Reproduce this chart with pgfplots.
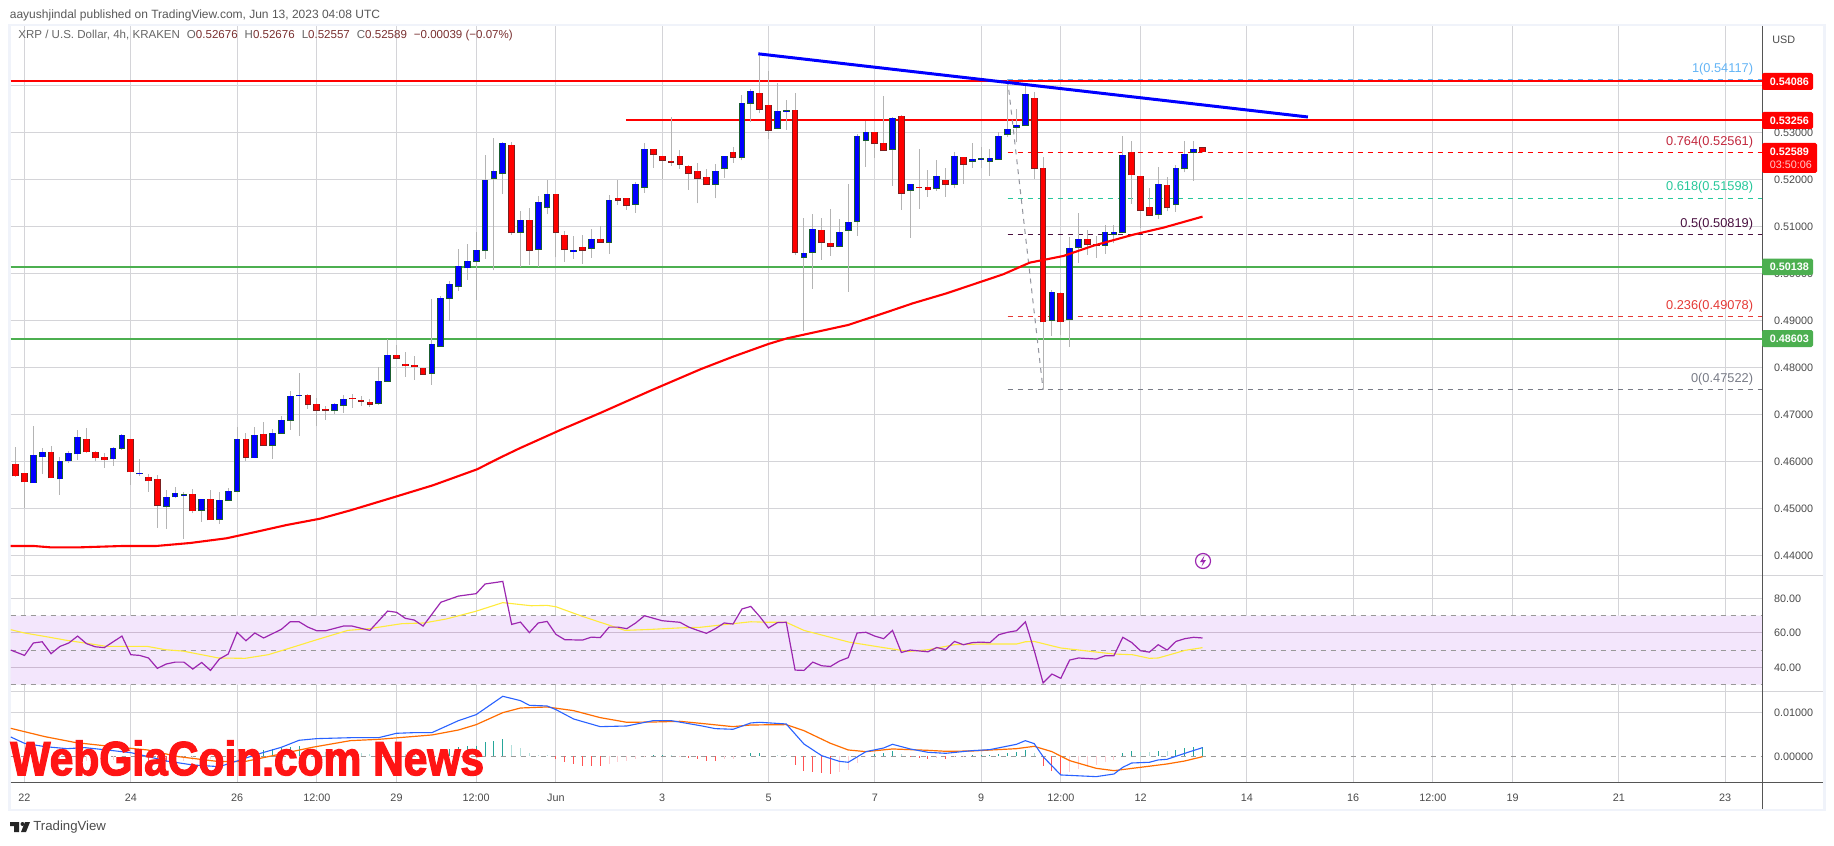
\documentclass[border=0pt]{standalone}
\usepackage{fontspec}
\setmainfont{Liberation Sans}
\newfontfamily\wmfont[FakeBold=2.5,FakeStretch=0.885]{Liberation Sans Bold}
\usepackage{pgfplots}
\usepackage{pgfplotstable}
\pgfplotsset{compat=1.18}

\definecolor{upfill}{HTML}{0000FF}
\definecolor{upedge}{HTML}{1B5E30}
\definecolor{dnfill}{HTML}{FF0000}
\definecolor{dnedge}{HTML}{7B1F1F}
\definecolor{wick}{HTML}{B4B4B4}
\definecolor{gridc}{HTML}{D4D4D8}
\definecolor{framec}{HTML}{F0F3FA}
\definecolor{tickc}{HTML}{4A4A4A}
\definecolor{axisc}{HTML}{555555}
\definecolor{levelred}{HTML}{FF0000}
\definecolor{levelgreen}{HTML}{4CAF50}
\definecolor{fib1}{HTML}{64B5F6}
\definecolor{fib764}{HTML}{C2273D}
\definecolor{fib618}{HTML}{26C89A}
\definecolor{fib5}{HTML}{4A1040}
\definecolor{fib236}{HTML}{E53935}
\definecolor{fib0}{HTML}{787B86}
\definecolor{rsiline}{HTML}{9C27B0}
\definecolor{rsima}{HTML}{FFEB3B}
\definecolor{rsiband}{HTML}{F3E6FC}
\definecolor{macdline}{HTML}{2962FF}
\definecolor{macdsig}{HTML}{FF6D00}
\definecolor{histup}{HTML}{26A69A}
\definecolor{histupl}{HTML}{B2DFDB}
\definecolor{histdn}{HTML}{FF5252}
\definecolor{histdnl}{HTML}{FFCDD2}
\definecolor{valc}{HTML}{7A3030}

% x is the number of 4h candles since May 22 00:00
\pgfplotstableread{
n open high low close
1 .45546 .46752 .45546 .46128
2 .46099 .46284 .45738 .46191
4 .45631 .46092 .45291 .46000
5 .46014 .46220 .45972 .46170
6 .46163 .46667 .46035 .46511
10 .46057 .46305 .45908 .46277
11 .46277 .46582 .46248 .46553
13 .45738 .46050 .45695 .45745
16 .45043 .45390 .44567 .45234
17 .45248 .45454 .45213 .45319
18 .45277 .45348 .44355 .45291
20 .44957 .45191 .44716 .45191
22 .44766 .45348 .44674 .45170
23 .45170 .45433 .45170 .45362
24 .45362 .46730 .45348 .46468
26 .46078 .46730 .46064 .46553
28 .46340 .46688 .46057 .46596
29 .46596 .46965 .46596 .46872
30 .46872 .47496 .46674 .47383
31 .47397 .47879 .46546 .47404
35 .47085 .47241 .47014 .47213
36 .47191 .47411 .47035 .47319
40 .47234 .48000 .47206 .47702
41 .47702 .48600 .47702 .48255
46 .47872 .49454 .47631 .48489
47 .48447 .49518 .48447 .49468
48 .49468 .49830 .48993 .49766
49 .49723 .50518 .49631 .50149
50 .50121 .50624 .49865 .50255
51 .50255 .50887 .49440 .50489
52 .50489 .52518 .50312 .51979
53 .52021 .52879 .50064 .52170
54 .52128 .52794 .51695 .52766
56 .50872 .51319 .50142 .51128
58 .50511 .51638 .50142 .51511
59 .51404 .51986 .51255 .51681
62 .50461 .50801 .50312 .50489
64 .50532 .50943 .50333 .50723
66 .50660 .51667 .50418 .51553
69 .51468 .51943 .51291 .51894
70 .51830 .52766 .51716 .52638
78 .51894 .52326 .51596 .52170
79 .52234 .52489 .52035 .52489
81 .52468 .53787 .52404 .53617
82 .53617 .53915 .53213 .53872
85 .53085 .54050 .53064 .53447
86 .53454 .53681 .53050 .53461
88 .50340 .51177 .48780 .50426
89 .50447 .51262 .49674 .50936
92 .50574 .51149 .50574 .50872
93 .50915 .51901 .49610 .51085
94 .51106 .52957 .50801 .52915
95 .52830 .53241 .52270 .53000
98 .52638 .53319 .51865 .53298
100 .51766 .51894 .50759 .51894
103 .51808 .52404 .51759 .52064
105 .51894 .52574 .51808 .52489
107 .52383 .52773 .52241 .52425
108 .52433 .52695 .52241 .52440
109 .52383 .52645 .52078 .52447
110 .52425 .53000 .52425 .52915
111 .52957 .54128 .52894 .53064
112 .53106 .53489 .52787 .53149
113 .53149 .54007 .53149 .53808
116 .49000 .49638 .48674 .49596
118 .49021 .50780 .48440 .50532
119 .50553 .51284 .50227 .50723
122 .50596 .51021 .50418 .50872
123 .50837 .51028 .50638 .50872
124 .50872 .52922 .50872 .52511
128 .51255 .52262 .51163 .51894
130 .51468 .52298 .51312 .52234
131 .52234 .52808 .52149 .52532
132 .52574 .52808 .51972 .52638
}\upcandles

\pgfplotstableread{
n open high low close
-1 .45936 .46305 .45667 .45695
0 .45745 .45745 .45014 .45567
3 .46191 .46326 .45652 .45652
7 .46468 .46709 .46184 .46206
8 .46191 .46220 .46000 .46078
9 .46085 .46177 .45865 .46035
12 .46468 .46468 .45504 .45780
14 .45660 .45723 .45355 .45589
15 .45617 .45702 .44589 .45064
19 .45298 .45411 .44894 .44950
21 .45191 .45390 .44759 .44759
25 .46468 .46603 .46007 .46085
27 .46574 .46837 .46326 .46340
32 .47404 .47426 .47121 .47213
33 .47213 .47340 .46759 .47085
34 .47106 .47170 .46887 .47085
37 .47340 .47433 .47142 .47333
38 .47298 .47383 .47184 .47277
39 .47255 .47319 .47163 .47213
42 .48255 .48475 .48191 .48191
43 .48064 .48326 .47801 .48035
44 .48043 .48241 .47738 .48014
45 .47979 .47979 .47851 .47851
55 .52723 .52794 .50823 .50872
57 .51128 .51383 .50170 .50489
60 .51681 .51681 .50340 .50872
61 .50808 .50901 .50248 .50511
63 .50553 .50816 .50206 .50489
65 .50723 .51007 .50660 .50660
67 .51596 .51986 .51461 .51553
68 .51596 .51596 .51355 .51447
71 .52638 .52638 .52241 .52532
72 .52489 .52489 .52000 .52404
73 .52383 .53319 .52291 .52362
74 .52489 .52624 .52227 .52319
75 .52277 .52298 .51780 .52128
76 .52170 .52347 .51489 .52021
77 .52043 .52213 .51894 .51894
80 .52574 .52681 .52355 .52468
83 .53830 .54667 .53404 .53489
84 .53574 .54305 .52865 .53043
87 .53468 .53837 .50397 .50447
90 .50915 .51177 .50291 .50660
91 .50638 .51362 .50376 .50574
96 .53000 .53000 .52461 .52766
97 .52766 .53773 .52617 .52617
99 .53340 .53362 .51355 .51702
101 .51830 .52645 .51376 .51823
102 .51830 .52191 .51631 .51780
104 .51979 .52234 .51631 .51894
106 .52468 .52468 .51908 .52319
114 .53723 .53858 .52014 .52234
115 .52234 .52468 .47532 .48972
117 .49574 .49596 .48681 .48972
120 .50723 .50915 .50397 .50617
121 .50617 .50801 .50333 .50596
125 .52574 .52816 .51482 .52099
126 .52064 .52064 .50957 .51340
127 .51404 .51808 .51234 .51234
129 .51872 .52043 .51319 .51404
133 .52676 .52676 .52557 .52589
}\downcandles

\pgfplotsset{
  tvpanel/.style={
    scale only axis,
    width=875.65pt,
    xmin=-1.558, xmax=196.17,
    axis line style={draw=none},
    tick style={draw=none},
    major tick length=0pt,
    grid=major,
    grid style={gridc, line width=0.5pt},
    xtick={0,12,24,33,42,51,60,72,84,96,108,117,126,138,150,159,168,180,192},
    xticklabels={},
    ymajorgrids=true,
    yticklabel pos=right,
    tick label style={font=\fontsize{5.4pt}{6pt}\selectfont, text=tickc},
    yticklabel style={anchor=west, xshift=2.5pt},
    /pgf/number format/assume math mode=true,
    /pgf/number format/fixed,
    /pgf/number format/fixed zerofill,
  },
  wicks/.style={draw=none, no markers, forget plot,
    error bars/y dir=plus, error bars/y explicit, error bars/error mark=none,
    error bars/error bar style={draw=wick, solid, line width=0.5pt}},
  bodies/.style={draw=none, no markers, forget plot,
    error bars/y dir=plus, error bars/y explicit, error bars/error mark=none,
    error bars/error bar style={#1}},
  level/.style={draw=#1, line width=1pt, no markers},
  fibline/.style={draw=#1, line width=0.5pt, no markers, dash pattern=on 2.5pt off 2.5pt},
}

\newcommand{\fiblabel}[3]{\node[anchor=south east, inner sep=0pt, yshift=2.2pt, text=#1,
  font=\fontsize{6.4pt}{7pt}\selectfont] at (axis cs:195.2,#2) {#3};}

\begin{document}
\begin{tikzpicture}
\path[use as bounding box] (0,0) rectangle (917pt,-422.5pt);
\fill[white] (0,0) rectangle (917pt,-422.5pt);
\draw[framec, line width=1.2pt] (4.8pt,-12.4pt) rectangle (912.2pt,-405pt);

% price pane
\begin{axis}[tvpanel, at={(5.35pt,-287.5pt)}, anchor=south west, height=274.5pt,
  ymin=.43581, ymax=.55262,
  ytick={.44,.45,.46,.47,.48,.49,.50,.51,.52,.53,.54},
  /pgf/number format/precision=5]
\addplot[level=levelgreen] coordinates {(-1.558,.50138) (196.17,.50138)};
\addplot[level=levelgreen] coordinates {(-1.558,.48603) (196.17,.48603)};
\addplot[level=levelred] coordinates {(-1.558,.54086) (196.17,.54086)};
\addplot[level=levelred] coordinates {(67.9,.53256) (196.17,.53256)};

\addplot[fibline=fib1] coordinates {(111,.54117) (196.17,.54117)};
\addplot[fibline=levelred] coordinates {(111,.52561) (196.17,.52561)};
\addplot[fibline=fib618] coordinates {(111,.51598) (196.17,.51598)};
\addplot[fibline=fib5] coordinates {(111,.50819) (196.17,.50819)};
\addplot[fibline=fib236] coordinates {(111,.49078) (196.17,.49078)};
\addplot[fibline=fib0] coordinates {(111,.47522) (196.17,.47522)};
\addplot[fibline=fib0!80] coordinates {(111,.54117) (115,.47522)};

\addplot[wicks] table[x=n, y=low, y error plus expr=\thisrow{high}-\thisrow{low}] {\upcandles};
\addplot[wicks] table[x=n, y=low, y error plus expr=\thisrow{high}-\thisrow{low}] {\downcandles};

\addplot[bodies={draw=upedge, solid, line width=3.4pt}] table[x=n, y expr=\thisrow{open}-.00016,
  y error plus expr=\thisrow{close}-\thisrow{open}+.00032] {\upcandles};
\addplot[bodies={draw=upfill, solid, line width=2.4pt}] table[x=n, y=open,
  y error plus expr=\thisrow{close}-\thisrow{open}] {\upcandles};
\addplot[bodies={draw=dnedge, solid, line width=3.4pt}] table[x=n, y expr=\thisrow{close}-.00016,
  y error plus expr=\thisrow{open}-\thisrow{close}+.00032] {\downcandles};
\addplot[bodies={draw=dnfill, solid, line width=2.4pt}] table[x=n, y=close,
  y error plus expr=\thisrow{open}-\thisrow{close}] {\downcandles};

% 100 EMA
\addplot[draw=dnfill, line width=1.05pt, no markers] coordinates {
(-1.56,.44199) (1,.44199) (2.9,.44170) (6.3,.44170) (11.2,.44199) (14.9,.44199)
(18.7,.44262) (22.8,.44362) (26.6,.44518) (29.6,.44645) (33.4,.44780) (36.8,.44957)
(41.3,.45213) (46.1,.45489) (51.1,.45830) (53.7,.46078) (55.9,.46277) (60.5,.46666)
(65,.47028) (70.6,.47496) (76.3,.47957) (80,.48227) (84,.48497) (86.1,.48617)
(93,.48901) (97.3,.49170) (100.3,.49362) (104.1,.49574) (110.5,.49979) (113.5,.50227)
(117.3,.50369) (120.7,.50589) (125.2,.50823) (128.6,.50972) (133,.51206)};

% falling trend line
\addplot[draw=upfill, line width=1.5pt, no markers] coordinates {(82.85,.5467) (144.9,.53326)};

\fiblabel{fib1}{.54117}{1(0.54117)}
\fiblabel{fib764}{.52561}{0.764(0.52561)}
\fiblabel{fib618}{.51598}{0.618(0.51598)}
\fiblabel{fib5}{.50819}{0.5(0.50819)}
\fiblabel{fib236}{.49078}{0.236(0.49078)}
\fiblabel{fib0}{.47522}{0(0.47522)}
\end{axis}

% RSI pane
\begin{axis}[tvpanel, at={(5.35pt,-345.5pt)}, anchor=south west, height=58pt,
  ymin=26.26, ymax=93.51,
  ytick={40,60,80},
  /pgf/number format/precision=2]
\addplot[fill=rsiband, draw=none, forget plot] coordinates {(-1.558,30) (196.17,30) (196.17,70) (-1.558,70)} \closedcycle;
\addplot[draw=gridc!85!rsiline, line width=0.5pt, no markers] coordinates {(-1.558,40) (196.17,40)};
\addplot[draw=gridc!85!rsiline, line width=0.5pt, no markers] coordinates {(-1.558,60) (196.17,60)};
\addplot[draw=black!40, line width=0.5pt, no markers, dash pattern=on 2.5pt off 2.5pt] coordinates {(-1.558,70) (196.17,70)};
\addplot[draw=black!40, line width=0.5pt, no markers, dash pattern=on 2.5pt off 2.5pt] coordinates {(-1.558,50) (196.17,50)};
\addplot[draw=black!40, line width=0.5pt, no markers, dash pattern=on 2.5pt off 2.5pt] coordinates {(-1.558,30) (196.17,30)};
\addplot[draw=rsima, line width=0.55pt, no markers] coordinates {
(-1.55,61.8) (0,59.9) (2.3,57.9) (4.8,55.6) (6.8,54.1) (9.3,52.1) (13.9,52.1) (15.9,50.2)
(17.9,49.4) (21.9,45.4) (24.9,45.2) (27.5,47.3) (30,51.2) (33,56.0) (36.5,61.4) (38.9,62.4)
(42.6,65.3) (45.1,65.7) (47.6,68.0) (50.9,72.4) (54,77.5) (57.2,75.7) (59,75.9) (60,75.1)
(63,69.5) (67.8,61.4) (70.8,62.0) (73.8,62.8) (76.3,63.2) (78.9,64.7) (82,66.4) (84,66.1)
(86,66.1) (88,61.4) (93.1,54.6) (97,51.4) (99.8,49.2) (102,50.2) (105,53.1) (108,53.5)
(112,53.5) (113,54.8) (114,55.0) (117,51.2) (123,47.7) (125.1,47.3) (127,45.2) (128,45.4)
(130,48.3) (131,49.8) (133,51.4)};
\addplot[draw=rsiline, line width=0.6pt, no markers] coordinates {
(-1.55,50.0) (0,46.9) (1,54.1) (2,54.8) (3,47.9) (4,52.1) (5,54.1) (6,58.1) (7,53.7) (8,51.9)
(9,51.4) (11,58.1) (12,47.3) (13,46.9) (14,45.4) (15,39.4) (16,41.9) (17,43.0) (18,43.0)
(19,39.0) (20,42.8) (21,38.2) (22,44.8) (23,47.7) (24,60.3) (25,55.4) (26,59.9) (27,57.0)
(29,62.0) (30,66.4) (31,66.4) (32,63.3) (33,61.2) (34,61.2) (36,63.9) (37,63.9) (38,62.6)
(39,61.4) (41,72.6) (42,71.9) (43,68.4) (44,67.4) (45,63.9) (47,77.7) (49,81.3) (51,82.7)
(52,88.3) (54,89.8) (55,64.9) (56,66.2) (57,60.1) (58,65.7) (59,66.6) (60,59.1) (61,56.0)
(63,55.8) (64,57.5) (65,57.2) (66,63.3) (67,63.3) (68,62.4) (69,65.7) (70,69.9) (72,67.0)
(74,66.1) (75,63.3) (76,61.4) (77,59.7) (78,62.4) (79,65.7) (80,65.1) (81,73.8) (82,75.3)
(83,69.5) (84,62.8) (85,65.9) (86,66.1) (87,38.4) (88,38.2) (89,43.0) (90,40.9) (91,40.5)
(92,43.6) (93,45.6) (94,59.9) (95,60.3) (96,58.1) (97,56.6) (98,61.4) (99,48.6) (100,50.0)
(102,49.0) (103,51.5) (104,50.2) (105,55.0) (106,53.1) (107,54.3) (108,54.6) (109,54.3)
(110,58.9) (111,60.3) (112,61.2) (113,66.4) (114,49.8) (115,31.0) (116,36.1) (117,33.6)
(118,44.2) (119,45.4) (121,44.8) (122,46.7) (123,46.7) (124,57.4) (125,54.4) (126,49.6)
(127,48.8) (128,53.1) (129,50.0) (130,55.0) (131,56.6) (132,57.4) (133,57.0)};
\end{axis}

% MACD pane
\begin{axis}[tvpanel, at={(5.35pt,-391pt)}, anchor=south west, height=45.5pt,
  ymin=-.00584, ymax=.01484,
  ytick={.01}, extra y ticks={0}, extra tick style={grid=none},
  /pgf/number format/precision=5,
  scaled y ticks=false,
  xticklabels={22,24,26,12:00,29,12:00,Jun,3,5,7,9,12:00,12,14,16,12:00,19,21,23},
  xticklabel style={yshift=-2.5pt}]
\addplot[draw=black!40, line width=0.5pt, no markers, dash pattern=on 2.5pt off 2.5pt] coordinates {(-1.558,0) (196.17,0)};
\addplot[ycomb, draw=histup, line width=0.5pt, no markers] coordinates {
(26,.00098) (27,.00136) (28,.00159) (29,.00182) (30,.00212) (31,.00227) (48,.00159) (49,.00205)
(50,.00235) (51,.00227) (52,.00333) (53,.00348) (54,.00394) (71,.00030) (72,.00023) (82,.00076)
(83,.00076) (96,.00045) (97,.00068) (98,.00121) (107,.00023) (108,.00030) (109,.00023) (110,.00053)
(111,.00076) (112,.00098) (113,.00144) (124,.00068) (125,.00114) (128,.00114) (130,.00144)
(131,.00189) (132,.00212) (133,.00212)};
\addplot[ycomb, draw=histupl, line width=0.5pt, no markers] coordinates {
(25,.00030) (32,.00180) (33,.00130) (34,.00090) (35,.00060) (36,.00040) (37,.00030) (38,.00068)
(39,.00045) (40,.00030) (41,.00045) (42,.00060) (43,.00060) (44,.00050) (45,.00040) (46,.00040)
(47,.00090) (55,.00258) (56,.00182) (57,.00068) (58,.00038) (59,.00023) (73,.00023) (85,.00023)
(86,.00023) (99,.00045) (114,.00068) (126,.00091) (127,.00098) (129,.00114)};
\addplot[ycomb, draw=histdn, line width=0.5pt, no markers] coordinates {
(13,-.00091) (14,-.00110) (15,-.00120) (16,-.00130) (17,-.00120) (60,-.00061) (61,-.00129)
(62,-.00182) (63,-.00220) (64,-.00220) (65,-.00220) (75,-.00045) (76,-.00068) (77,-.00098)
(78,-.00098) (87,-.00189) (88,-.00326) (89,-.00348) (90,-.00371) (91,-.00394) (100,-.00015)
(101,-.00030) (102,-.00053) (104,-.00053) (115,-.00220) (116,-.00333) (117,-.00424)};
\addplot[ycomb, draw=histdnl, line width=0.5pt, no markers] coordinates {
(-1,-.00190) (0,-.00180) (1,-.00170) (2,-.00160) (3,-.00150) (4,-.00140) (5,-.00130) (6,-.00120)
(7,-.00110) (8,-.00100) (9,-.00090) (10,-.00080) (11,-.00070) (12,-.00060) (18,-.00100)
(19,-.00090) (20,-.00080) (21,-.00070) (22,-.00060) (23,-.00040) (24,-.00020) (66,-.00182)
(67,-.00136) (68,-.00106) (69,-.00061) (70,-.00008) (74,-.00008) (79,-.00068) (80,-.00068)
(92,-.00348) (93,-.00303) (94,-.00152) (95,-.00023) (103,-.00045) (105,-.00023) (106,-.00023)
(118,-.00356) (119,-.00288) (120,-.00235) (121,-.00189) (122,-.00129) (123,-.00083)};
\addplot[draw=macdsig, line width=0.6pt, no markers] coordinates {
(-1.55,.00636) (2.3,.00447) (5.8,.00311) (9.3,.00235) (13.9,.00144) (17.4,-.00008) (22,-.00121)
(25,-.00114) (27.5,-.00008) (32.5,.00205) (36.8,.00356) (40,.00386) (46,.00485) (49,.00598)
(51,.00720) (54,.00992) (56,.01098) (59,.01121) (62,.01038) (65,.00879) (68,.00773) (71,.00780)
(74,.00795) (76.3,.00750) (80,.00674) (82,.00712) (86,.00720) (88,.00583) (91,.00295) (93,.00144)
(95,.00106) (98,.00167) (102,.00136) (104,.00114) (107,.00121) (112,.00174) (114,.00227)
(116,.00106) (118,-.00098) (121,-.00273) (123,-.00326) (126,-.00250) (129,-.00174) (131,-.00106)
(133,-.00008)};
\addplot[draw=macdline, line width=0.55pt, no markers] coordinates {
(-1.55,.00439) (0,.00295) (2.3,.00220) (4.8,.00174) (6.8,.00197) (9.3,.00144) (12,.00083)
(14,-.00008) (16,-.00106) (19,-.00197) (22,-.00235) (24,-.00106) (26,.00030) (29,.00205)
(31,.00364) (33,.00402) (37,.00424) (40,.00424) (42,.00523) (44,.00538) (46,.00538) (49,.00811)
(51,.00947) (54,.01364) (56,.01265) (57,.01159) (59,.01144) (60,.01061) (62,.00848) (65,.00674)
(68,.00689) (71,.00811) (73,.00811) (76.3,.00697) (78,.00629) (80,.00614) (82,.00758) (83,.00773)
(86,.00735) (88,.00280) (90,.00015) (92,-.00114) (93,-.00136) (95,.00106) (97,.00189) (98,.00273)
(100,.00167) (102,.00091) (104,.00068) (107,.00129) (109,.00152) (112,.00273) (113,.00356)
(114,.00288) (115,-.00008) (117,-.00424) (121,-.00462) (123,-.00402) (124,-.00250) (125,-.00152)
(127,-.00136) (128,-.00083) (129,-.00068) (131,.00068) (133,.00197)};
\end{axis}

% window furniture, in pixels of the 1834x845 screenshot measured from the top left
\begin{scope}[x=0.5pt, y=-0.5pt]
\draw[gridc, line width=0.5pt] (10.7,575) -- (1823,575) (10.7,691) -- (1823,691);
\draw[axisc, line width=0.5pt] (10.7,782) -- (1823,782) (1762,26) -- (1762,809);

\node[anchor=west, inner sep=0pt, text=tickc, font=\fontsize{5.4pt}{6pt}\selectfont] at (1772,40) {USD};
\node[anchor=west, inner sep=0pt, text=black!65, font=\fontsize{6pt}{7pt}\selectfont] at (9.5,15) {aayushjindal published on TradingView.com, Jun 13, 2023 04:08 UTC};
\node[anchor=west, inner sep=0pt, text=black!60, font=\fontsize{5.77pt}{7pt}\selectfont] at (18,36) {XRP / U.S. Dollar, 4h, KRAKEN\hspace{3.5pt}O\textcolor{valc}{0.52676}\hspace{3.5pt}H\textcolor{valc}{0.52676}\hspace{3.5pt}L\textcolor{valc}{0.52557}\hspace{3.5pt}C\textcolor{valc}{0.52589}\hspace{3.5pt}\textcolor{valc}{−0.00039 (−0.07\%)}};

% last price and level tags
\fill[levelred, rounded corners=0.8pt] (1762,73) rectangle (1813,90);
\fill[levelred, rounded corners=0.8pt] (1762,112) rectangle (1813,129);
\fill[levelred, rounded corners=0.8pt] (1762,143) rectangle (1817,173);
\fill[levelgreen, rounded corners=0.8pt] (1762,258.5) rectangle (1813,275);
\fill[levelgreen, rounded corners=0.8pt] (1762,330) rectangle (1813,347);
\begin{scope}[every node/.style={anchor=west, inner sep=0pt, text=white, font=\bfseries\fontsize{5.4pt}{6pt}\selectfont}]
\node at (1769.5,81.5) {0.54086};
\node at (1769.5,120.5) {0.53256};
\node at (1769.5,152) {0.52589};
\node[text=white!80!red, font=\fontsize{5.4pt}{6pt}\selectfont] at (1769.5,165) {03:50:06};
\node at (1769.5,267) {0.50138};
\node at (1769.5,339) {0.48603};
\end{scope}

% news flash badge
\draw[rsiline, line width=0.6pt] (1203,561) circle (7.5);
\fill[rsiline] (1204.5,555.5) -- (1200,562) -- (1203,562) -- (1201.5,566.5) -- (1206,560) -- (1203,560) -- cycle;

% TradingView footer
\fill[black!85] (10,822) rectangle (19,826) (14,826) rectangle (19,832);
\fill[black!85] (22.5,824) circle (2);
\fill[black!85] (25,822) -- (30,822) -- (26,832) -- (21,832) -- cycle;
\node[anchor=west, inner sep=0pt, text=black!70, font=\fontsize{6.6pt}{7pt}\selectfont] at (33,827) {TradingView};

% site watermark
\node[anchor=west, inner sep=0pt, text={rgb,255:red,255;green,20;blue,20},
  font=\wmfont\fontsize{24pt}{26pt}\selectfont] at (10,758) {WebGiaCoin.com News};
\end{scope}
\end{tikzpicture}
\end{document}
